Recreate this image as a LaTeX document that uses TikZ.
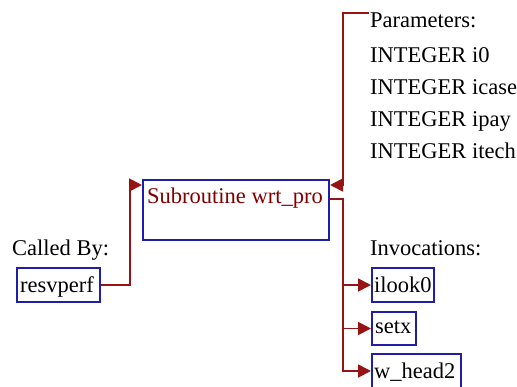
\documentclass[tikz,border=0pt]{standalone}
\usepackage{fontspec}
\setmainfont{Liberation Serif}
\usetikzlibrary{arrows.meta,calc}
\definecolor{boxblue}{RGB}{30,30,170}
\definecolor{linkred}{RGB}{150,20,20}
\definecolor{namered}{RGB}{128,0,0}
\tikzset{
  box/.style={draw=boxblue,line width=2pt,inner sep=0pt,anchor=north west},
  link/.style={draw=linkred,line width=1.8pt},
  tip/.style={-{Triangle[length=13pt,width=13pt]}},
  txt/.style={anchor=base west,inner sep=0pt,text=black}
}
\begin{document}
\begin{tikzpicture}[x=1pt,y=-1pt,font=\fontsize{22.5}{26}\selectfont]
  \useasboundingbox (0,0) rectangle (517,386);
  % caller
  \node[txt] (calledby) at (12,255) {Called By:};
  \node[box,minimum width=83pt,minimum height=34pt] (resvperf) at (16,267) {};
  \node[txt] (resvperftxt) at (20,292) {resvperf};
  % the subroutine
  \node[box,minimum width=186pt,minimum height=60pt] (main) at (142,179) {};
  \node[txt,text=namered] (maintxt) at (147,203) {Subroutine wrt\_pro};
  % parameters
  \node[txt] (params) at (370,27) {Parameters:};
  \foreach \p [count=\i] in {i0,icase,ipay,itech}
    \node[txt] (par\i) at (370,30+32*\i) {INTEGER \p};
  % invocations
  \node[txt] (invoc) at (370,255) {Invocations:};
  \node[box,minimum width=62pt,minimum height=34pt] (ilook) at (371,267) {};
  \node[txt] (ilooktxt) at (374,292) {ilook0};
  \node[box,minimum width=44pt,minimum height=33pt] (setx) at (371,311) {};
  \node[txt] (setxtxt) at (375,333) {setx};
  \node[box,minimum width=89pt,minimum height=34pt] (whead) at (371,353) {};
  \node[txt] (wheadtxt) at (374,378) {w\_head2};
  % connectors
  \coordinate (inL) at ($(main.north west)+(0,6)$);
  \coordinate (inR) at ($(main.north east)+(0,6)$);
  \coordinate (out) at ($(main.north east)+(0,20)$);
  \coordinate (bus) at (343,199);
  \coordinate (ptop) at (369,13);
  \draw[link,tip] (resvperf.east) -- ++(29,0) |- (inL);
  \draw[link,tip] (ptop) -| (bus |- inR) -- (inR);
  \draw[link,tip] (out) -- (bus) |- (whead.west);
  \draw[link,tip] (bus |- ilook.west) -- (ilook.west);
  \draw[link,tip] (bus |- setx.west) -- (setx.west);
\end{tikzpicture}
\end{document}
